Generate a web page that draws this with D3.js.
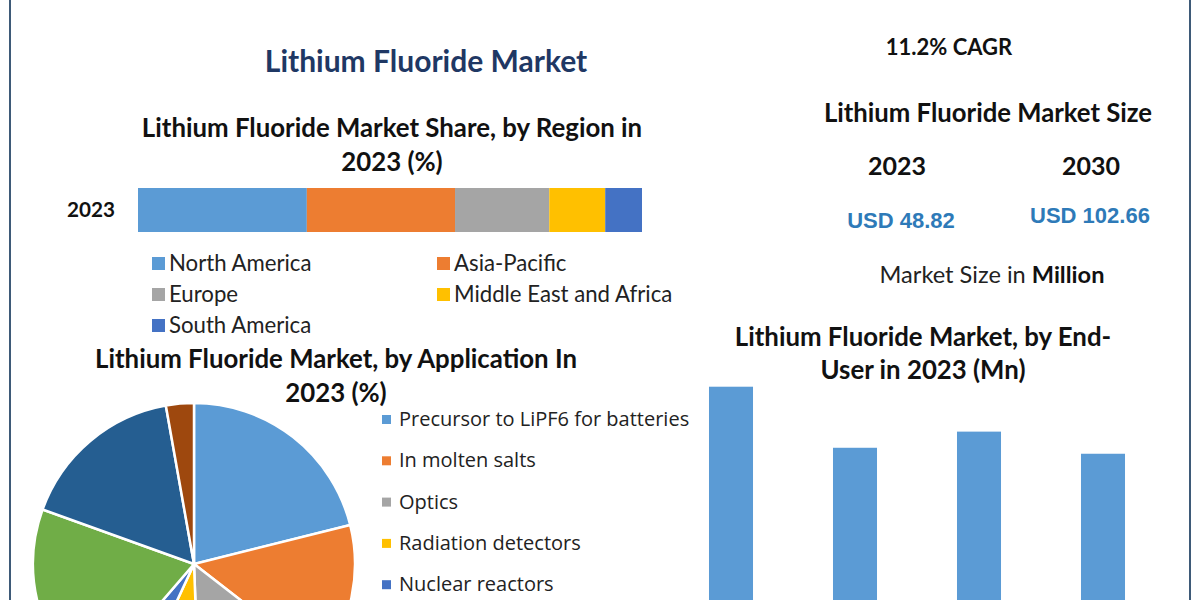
<!DOCTYPE html>
<html>
<head>
<meta charset="utf-8">
<script src="https://cdn.jsdelivr.net/npm/d3@7"></script>
<style>
  html, body { margin: 0; padding: 0; background: #ffffff; }
  svg { display: block; }
</style>
</head>
<body>
<svg id="chart" width="1200" height="600"></svg>
<script>
// ---------------- DATA ----------------
const regions = ["North America", "Asia-Pacific", "Europe", "Middle East and Africa", "South America"];
const regionShares = [33.5, 29.4, 18.7, 11.1, 7.3];
const regionYear = "2023";

const applications = ["Precursor to LiPF6 for batteries", "In molten salts", "Optics", "Radiation detectors", "Nuclear reactors", "Other application A", "Other application B", "Other application C"];
const applicationShares = [21.1, 14.4, 13.9, 7.5, 4.4, 19.2, 16.7, 2.8];

const endUsers = ["End-user 1", "End-user 2", "End-user 3", "End-user 4"];
const endUserValues = [14.16, 11.40, 12.13, 11.13];

const marketYears = ["2023", "2030"];
const marketValues = ["USD 48.82", "USD 102.66"];
const cagrLabel = "11.2% CAGR";

// ---------------- STYLE ----------------
const palette = ["#5b9bd5", "#ed7d31", "#a5a5a5", "#ffc000", "#4472c4", "#70ad47", "#255e91", "#9e480e"];
const titleFont = "Lato, 'Open Sans', sans-serif";
const svg = d3.select("#chart");

// frame lines
svg.append("line").attr("x1", 10).attr("x2", 10).attr("y1", 0).attr("y2", 600)
  .attr("stroke", "#3e5a78").attr("stroke-width", 2);
svg.append("line").attr("x1", 1190).attr("x2", 1190).attr("y1", 0).attr("y2", 600)
  .attr("stroke", "#3e5a78").attr("stroke-width", 2);

function txt(x, y, s, size, opts = {}) {
  return svg.append("text").attr("x", x).attr("y", y)
    .attr("text-anchor", opts.anchor || "middle")
    .attr("font-family", opts.family || titleFont)
    .attr("font-size", size)
    .attr("font-weight", opts.weight || "bold")
    .attr("fill", opts.fill || "#111")
    .text(s);
}

// main title
txt(426, 72, "Lithium Fluoride Market", 30, { fill: "#1f3864" });
txt(949, 55, cagrLabel, 22);

// ---------------- REGION STACKED BAR ----------------
txt(392, 137, "Lithium Fluoride Market Share, by Region in", 25.8);
txt(392, 171, "2023 (%)", 25.8);

const xReg = d3.scaleLinear().domain([0, d3.sum(regionShares)]).range([138, 642]);
const yReg = d3.scaleBand().domain([regionYear]).range([188, 232]).padding(0);
const stackData = [Object.fromEntries(regions.map((r, i) => [r, regionShares[i]]))];
const stacked = d3.stack().keys(regions)(stackData);
svg.append("g").selectAll("rect").data(stacked).join("rect")
  .attr("x", d => xReg(d[0][0]))
  .attr("width", d => xReg(d[0][1]) - xReg(d[0][0]))
  .attr("y", yReg(regionYear))
  .attr("height", yReg.bandwidth())
  .attr("fill", (d, i) => palette[i]);

const yAxisReg = svg.append("g").attr("transform", "translate(130,0)")
  .call(d3.axisLeft(yReg).tickSize(0).tickPadding(15));
yAxisReg.select(".domain").remove();
yAxisReg.selectAll("text").attr("font-family", titleFont).attr("font-size", 20.7)
  .attr("font-weight", "bold").attr("fill", "#111");

// region legend
const regLegPos = [[152, 263], [437, 263], [152, 294], [437, 294], [152, 325]];
regions.forEach((r, i) => {
  const [lx, ly] = regLegPos[i];
  svg.append("rect").attr("x", lx).attr("y", ly - 6).attr("width", 13).attr("height", 13).attr("fill", palette[i]);
  svg.append("text").attr("x", lx + 17).attr("y", ly + 8)
    .attr("font-family", titleFont).attr("font-size", 22.2).attr("fill", "#222").text(r);
});

// ---------------- APPLICATION PIE ----------------
txt(336, 368, "Lithium Fluoride Market, by Application In", 25.8);
txt(336, 402, "2023 (%)", 25.8);

const pie = d3.pie().sort(null).value(d => d)(applicationShares);
const arc = d3.arc().innerRadius(0).outerRadius(161);
svg.append("g").attr("transform", "translate(194,564)")
  .selectAll("path").data(pie).join("path")
  .attr("d", arc)
  .attr("fill", (d, i) => palette[i])
  .attr("stroke", "#fff").attr("stroke-width", 2.5);

applications.slice(0, 5).forEach((a, i) => {
  const ly = 419 + i * 41.3;
  svg.append("rect").attr("x", 382).attr("y", ly - 4).attr("width", 9).attr("height", 9).attr("fill", palette[i]);
  svg.append("text").attr("x", 399).attr("y", ly + 7)
    .attr("font-family", "'Open Sans', sans-serif").attr("font-size", 20).attr("fill", "#222").text(a);
});

// ---------------- MARKET SIZE ----------------
txt(988, 122, "Lithium Fluoride Market Size", 25.7);
const xYears = [897, 1091];
const yVals = [228, 223];
marketYears.forEach((y, i) => txt(xYears[i], 175, y, 25));
marketValues.forEach((v, i) => txt(xYears[i] + (i === 0 ? 4 : -1), yVals[i], v, 22,
  { family: "'Liberation Sans', Arial, sans-serif", fill: "#2e7ab8" }));
const ms = svg.append("text").attr("x", 992).attr("y", 283).attr("text-anchor", "middle")
  .attr("font-family", titleFont).attr("font-size", 23.6).attr("fill", "#222");
ms.append("tspan").text("Market Size in ");
ms.append("tspan").attr("font-weight", "bold").attr("fill", "#111").text("Million");

// ---------------- END-USER BAR ----------------
txt(923, 346, "Lithium Fluoride Market, by End-", 25.8);
txt(923, 379, "User in 2023 (Mn)", 25.8);

const xEnd = d3.scaleBand().domain(endUsers).range([669, 1165]).paddingInner(0.645).paddingOuter(0.3225);
const yEnd = d3.scaleLinear().domain([0, 16]).range([700, 346]);
svg.append("g").selectAll("rect").data(endUserValues).join("rect")
  .attr("x", (d, i) => xEnd(endUsers[i]))
  .attr("width", xEnd.bandwidth())
  .attr("y", d => yEnd(d))
  .attr("height", d => yEnd(0) - yEnd(d))
  .attr("fill", "#5b9bd5");
</script>
</body>
</html>
